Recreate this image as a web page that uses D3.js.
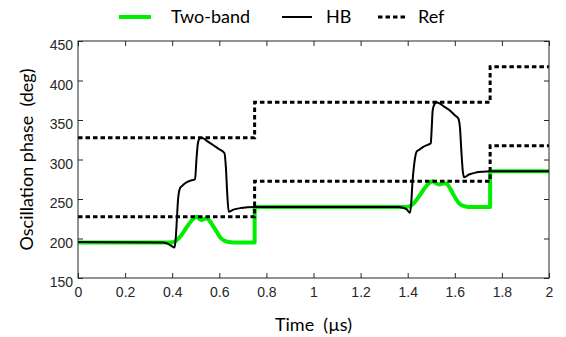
<!DOCTYPE html>
<html>
<head>
<meta charset="utf-8">
<script src="https://cdn.jsdelivr.net/npm/d3@7"></script>
<style>
  html, body { margin: 0; padding: 0; background: #fff; }
  svg { display: block; }
</style>
</head>
<body>
<svg id="chart" width="566" height="337"></svg>
<script>
// Reference phase steps (dashed): lower and upper bounds
const refTime  = [0, 0.75, 0.75, 1.75, 1.75, 2];
const refLower = [227.5, 227.5, 272.5, 272.5, 317.5, 317.5];
const refUpper = [327.5, 327.5, 372.5, 372.5, 417.5, 417.5];

// Two-band model response
const twoBandTime = [0, 0.39, 0.41, 0.43, 0.45, 0.47, 0.49, 0.505, 0.515, 0.525, 0.535, 0.548,
  0.56, 0.575, 0.59, 0.605, 0.62, 0.64, 0.66, 0.75, 0.75,
  1.39, 1.41, 1.43, 1.45, 1.47, 1.49, 1.508, 1.52, 1.535, 1.55, 1.56, 1.575, 1.59, 1.605,
  1.62, 1.64, 1.66, 1.75, 1.75, 2];
const twoBandPhase = [195, 195, 196, 201, 209, 218, 225, 227.5, 225, 223.5, 224.5, 225.5,
  222, 215, 208, 201, 197.5, 195.5, 195, 195, 240,
  240, 241, 246, 254, 263, 270, 272.5, 270, 268.5, 269.5, 270, 266, 258, 250,
  244, 241, 240, 240, 285, 285];

// Harmonic-balance response
const hbTime = [0, 0.36, 0.38, 0.395, 0.41, 0.415, 0.42, 0.425, 0.433, 0.44, 0.455, 0.475, 0.497,
  0.503, 0.508, 0.513, 0.521, 0.53, 0.55, 0.575, 0.6, 0.622, 0.628, 0.634, 0.64, 0.66, 0.69, 0.72, 0.75,
  1.36, 1.38, 1.395, 1.41, 1.415, 1.42, 1.428, 1.438, 1.45, 1.466, 1.485, 1.498,
  1.502, 1.506, 1.512, 1.522, 1.535, 1.555, 1.575, 1.6, 1.615, 1.622, 1.628, 1.634, 1.64,
  1.66, 1.69, 1.72, 1.75, 2];
const hbPhase = [195.5, 195, 193.5, 191, 188.5, 200, 225, 250, 263.5, 266, 270, 273, 275,
  300, 318, 325, 327.5, 327, 323, 318, 313, 308, 290, 255, 234, 236.5, 238.5, 239.5, 240,
  240, 239, 237, 232.5, 245, 270, 295, 310, 312.5, 316, 318.5, 320.5,
  340, 362, 369, 372.5, 371, 367, 363, 356, 352, 340, 310, 285, 277.5,
  281, 283.5, 284.5, 285, 285];

const xTicks = [0, 0.2, 0.4, 0.6, 0.8, 1, 1.2, 1.4, 1.6, 1.8, 2];
const yTicks = [150, 200, 250, 300, 350, 400, 450];

const svg = d3.select("#chart");
const plotLeft = 78, plotRight = 549, plotTop = 41, plotBottom = 278;

const x = d3.scaleLinear().domain([0, 2]).range([plotLeft, plotRight]);
const y = d3.scaleLinear().domain([150, 450]).range([plotBottom, plotTop]);

const tickFont = "'Liberation Sans', Arial, sans-serif";
const titleFont = "Lato, 'Open Sans', sans-serif";

// Axes with inward ticks on all four sides
const fmt = d => String(d);
const gx = svg.append("g").attr("transform", `translate(0,${plotBottom})`)
  .call(d3.axisBottom(x).tickValues(xTicks).tickFormat(fmt).tickSizeInner(-5).tickSizeOuter(0).tickPadding(9));
const gy = svg.append("g").attr("transform", `translate(${plotLeft},0)`)
  .call(d3.axisLeft(y).tickValues(yTicks).tickFormat(fmt).tickSizeInner(-5).tickSizeOuter(0).tickPadding(5));
const gt = svg.append("g").attr("transform", `translate(0,${plotTop})`)
  .call(d3.axisTop(x).tickValues(xTicks).tickFormat("").tickSizeInner(-5).tickSizeOuter(0));
const gr = svg.append("g").attr("transform", `translate(${plotRight},0)`)
  .call(d3.axisRight(y).tickValues(yTicks).tickFormat("").tickSizeInner(-5).tickSizeOuter(0));

[gx, gy, gt, gr].forEach(g => {
  g.select(".domain").remove();
  g.selectAll(".tick line").attr("stroke", "#262626").attr("stroke-width", 1);
  g.selectAll(".tick text").attr("fill", "#262626")
    .style("font-family", tickFont).style("font-size", "14px");
});
gy.selectAll(".tick text").attr("dy", "0.62em");

// Series
const line = d3.line().x(d => x(d[0])).y(d => y(d[1])).curve(d3.curveMonotoneX);
const zip = (a, b) => a.map((t, i) => [t, b[i]]);

svg.append("path").datum(zip(twoBandTime, twoBandPhase))
  .attr("d", line).attr("fill", "none").attr("stroke", "#00ee00")
  .attr("stroke-width", 4).attr("stroke-linejoin", "round");

svg.append("path").datum(zip(hbTime, hbPhase))
  .attr("d", line).attr("fill", "none").attr("stroke", "#000")
  .attr("stroke-width", 2).attr("stroke-linejoin", "round");

const stepLine = d3.line().x(d => x(d[0])).y(d => y(d[1]));
[refLower, refUpper].forEach(vals => {
  svg.append("path").datum(zip(refTime, vals))
    .attr("d", stepLine).attr("fill", "none").attr("stroke", "#000")
    .attr("stroke-width", 3).attr("stroke-dasharray", "4.5,3");
});

// Frame
svg.append("rect").attr("x", plotLeft).attr("y", plotTop)
  .attr("width", plotRight - plotLeft).attr("height", plotBottom - plotTop)
  .attr("fill", "none").attr("stroke", "#262626").attr("stroke-width", 1);

// Axis titles
svg.append("text").attr("x", (plotLeft + plotRight) / 2).attr("y", 331)
  .attr("text-anchor", "middle").style("font-family", titleFont).style("font-size", "18px")
  .style("white-space", "pre").attr("fill", "#000").text("Time  (µs)");
svg.append("text").attr("transform", `translate(33,${(plotTop + plotBottom) / 2}) rotate(-90)`)
  .attr("text-anchor", "middle").style("font-family", titleFont).style("font-size", "18px")
  .style("white-space", "pre").attr("fill", "#000").text("Oscillation phase  (deg)");

// Legend
const legend = [
  { label: "Two-band", x0: 119, x1: 151, tx: 171, color: "#00ee00", w: 4, dash: null },
  { label: "HB", x0: 282, x1: 312, tx: 326, color: "#000", w: 2, dash: null },
  { label: "Ref", x0: 378, x1: 406, tx: 418, color: "#000", w: 3, dash: "4.5,3" }
];
const lg = svg.append("g");
legend.forEach(d => {
  lg.append("line").attr("x1", d.x0).attr("x2", d.x1).attr("y1", 17).attr("y2", 17)
    .attr("stroke", d.color).attr("stroke-width", d.w)
    .attr("stroke-dasharray", d.dash);
  lg.append("text").attr("x", d.tx).attr("y", 23)
    .style("font-family", titleFont).style("font-size", "18px").attr("fill", "#000").text(d.label);
});
</script>
</body>
</html>
